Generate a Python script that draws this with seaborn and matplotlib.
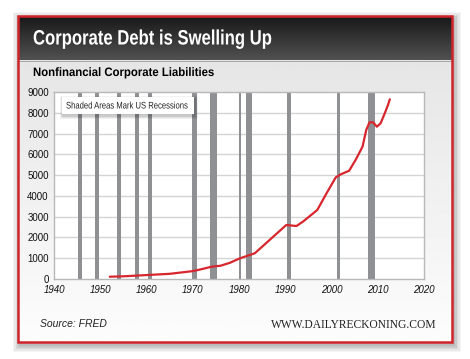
import numpy as np
import pandas as pd
import matplotlib
matplotlib.use("Agg")
import matplotlib.pyplot as plt
import seaborn as sns
from matplotlib.patches import Rectangle
from matplotlib.transforms import Affine2D
from matplotlib import patheffects as pe

# data (billions of dollars)
years = [1952, 1955, 1960, 1965, 1970, 1972, 1974, 1976, 1978, 1980, 1983.4,
         1987.4, 1990.2, 1992.4, 1993.8, 1996.9, 1998.9, 2000.9, 2002.1,
         2003.8, 2005.2, 2006.7, 2007.5, 2008.2, 2009.0, 2009.8, 2010.6,
         2011.5, 2012.2, 2012.6]
liabilities = [110, 130, 190, 250, 380, 480, 590, 640, 780, 980, 1240,
               2040, 2600, 2550, 2760, 3320, 4120, 4890, 5050,
               5210, 5730, 6370, 7170, 7540, 7540, 7330, 7490,
               7970, 8370, 8650]

# recessions (start, end) in decimal years, as shaded in the picture
rec_start = [1945.1, 1948.7, 1953.5, 1957.5, 1960.3, 1969.9, 1973.8, 1980.0,
             1981.4, 1990.4, 2001.1, 2007.8]
rec_end = [1945.9, 1949.7, 1954.4, 1958.3, 1961.1, 1970.8, 1975.2, 1980.5,
           1982.8, 1991.2, 2001.8, 2009.3]

x_ticks = [1940, 1950, 1960, 1970, 1980, 1990, 2000, 2010, 2020]
y_ticks = [0, 1000, 2000, 3000, 4000, 5000, 6000, 7000, 8000, 9000]

df = pd.DataFrame({"Year": years, "Liabilities": liabilities})


class HScale(pe.AbstractPathEffect):
    """Squeeze text horizontally around a fixed x (pixels) to mimic a condensed face."""
    def __init__(self, sx, x0):
        super().__init__()
        self.sx = sx
        self.x0 = x0

    def draw_path(self, renderer, gc, tpath, affine, rgbFace=None):
        t = affine + Affine2D().translate(-self.x0, 0).scale(self.sx, 1).translate(self.x0, 0)
        renderer.draw_path(gc, tpath, t, rgbFace)


sns.set_style("white")
plt.rcParams["font.family"] = ["Liberation Sans", "DejaVu Sans"]

W, H = 470, 359
fig = plt.figure(figsize=(W / 100, H / 100), dpi=100)
fig.patch.set_facecolor("white")

# background card drawn in pixel coordinates
bg = fig.add_axes([0, 0, 1, 1])
bg.set_xlim(0, W)
bg.set_ylim(H, 0)
bg.axis("off")

# soft shadow
for i, a in enumerate([0.04, 0.05, 0.06, 0.07, 0.08]):
    pad = 7 - i * 1.4
    bg.add_patch(Rectangle((18 - pad + 2, 16 - pad + 3), 434 + 2 * pad, 326 + 2 * pad,
                           facecolor="black", alpha=a, edgecolor="none", zorder=0))

# card body gradient
grad = np.linspace(0.90, 0.99, 256).reshape(-1, 1)
bg.imshow(grad, cmap="gray", vmin=0, vmax=1, extent=(18, 452, 342, 60),
          aspect="auto", zorder=1)
# title bar gradient
tgrad = np.linspace(0.10, 0.32, 256).reshape(-1, 1)
bg.imshow(tgrad, cmap="gray", vmin=0, vmax=1, extent=(18, 452, 60, 17),
          aspect="auto", zorder=2)
bg.plot([18, 452], [60.5, 60.5], color="#9a9a9a", linewidth=0.6, zorder=2.5)
bg.add_patch(Rectangle((18, 16), 434, 326, facecolor="none",
                       edgecolor="#d2232a", linewidth=1.8, zorder=3))

bg.text(33, 39, "Corporate Debt is Swelling Up", color="white", fontsize=15,
        fontweight="bold", va="center", ha="left", zorder=4,
        path_effects=[HScale(0.80, 33)])
bg.text(33, 73, "Nonfinancial Corporate Liabilities", color="black", fontsize=8.8,
        fontweight="bold", va="center", ha="left", zorder=4,
        path_effects=[HScale(0.93, 33)])
bg.text(40, 324, "Source: FRED", color="#222222", fontsize=7.5, style="italic",
        va="center", ha="left", zorder=4)
bg.text(436, 328, "WWW.DAILYRECKONING.COM", color="#222222", fontsize=8.3,
        family=["Liberation Serif", "DejaVu Serif"], va="baseline", ha="right",
        zorder=4)

# main plot
ax = fig.add_axes([54.3 / W, (H - 279) / H, (424 - 54.3) / W, (279 - 92) / H])
ax.set_facecolor("white")
for s, e in zip(rec_start, rec_end):
    ax.axvspan(s, e, color="#8f9094", linewidth=0, zorder=1)
for yt in y_ticks[1:-1]:
    ax.axhline(yt, color="#d4d4d4", linewidth=1.0, zorder=0.5)

sns.lineplot(data=df, x="Year", y="Liabilities", color="#d7262e", linewidth=1.6,
             ax=ax, zorder=3)

ax.set_xlim(1940, 2020)
ax.set_ylim(0, 9000)
ax.set_xticks(x_ticks)
ax.set_yticks(y_ticks)
ax.set_xticklabels([str(t) for t in x_ticks], fontsize=7, style="italic")
ax.set_yticklabels([str(t) for t in y_ticks], fontsize=7)
ax.tick_params(axis="both", length=0, pad=4, colors="#111111")
ax.set_xlabel("")
ax.set_ylabel("")
for sp in ax.spines.values():
    sp.set_color("#b8b8b8")
    sp.set_linewidth(1.0)

# note box with a soft shadow, in pixel coordinates
for i, a in enumerate([0.05, 0.07, 0.09]):
    pad = 3 - i
    ax.add_patch(Rectangle((62 - pad + 1, 97 - pad + 1.5), 132 + 2 * pad, 17 + 2 * pad,
                           transform=bg.transData, facecolor="black", alpha=a,
                           edgecolor="none", zorder=4, clip_on=False))
ax.add_patch(Rectangle((62, 97), 132, 17, transform=bg.transData, facecolor="white",
                       edgecolor="none", zorder=4.5, clip_on=False))
ax.text(66, 105.5, "Shaded Areas Mark US Recessions", transform=bg.transData,
        fontsize=6.9, color="#222222", va="center", ha="left", zorder=5,
        path_effects=[HScale(0.80, 66)])

fig.savefig("out.png", dpi=100)
